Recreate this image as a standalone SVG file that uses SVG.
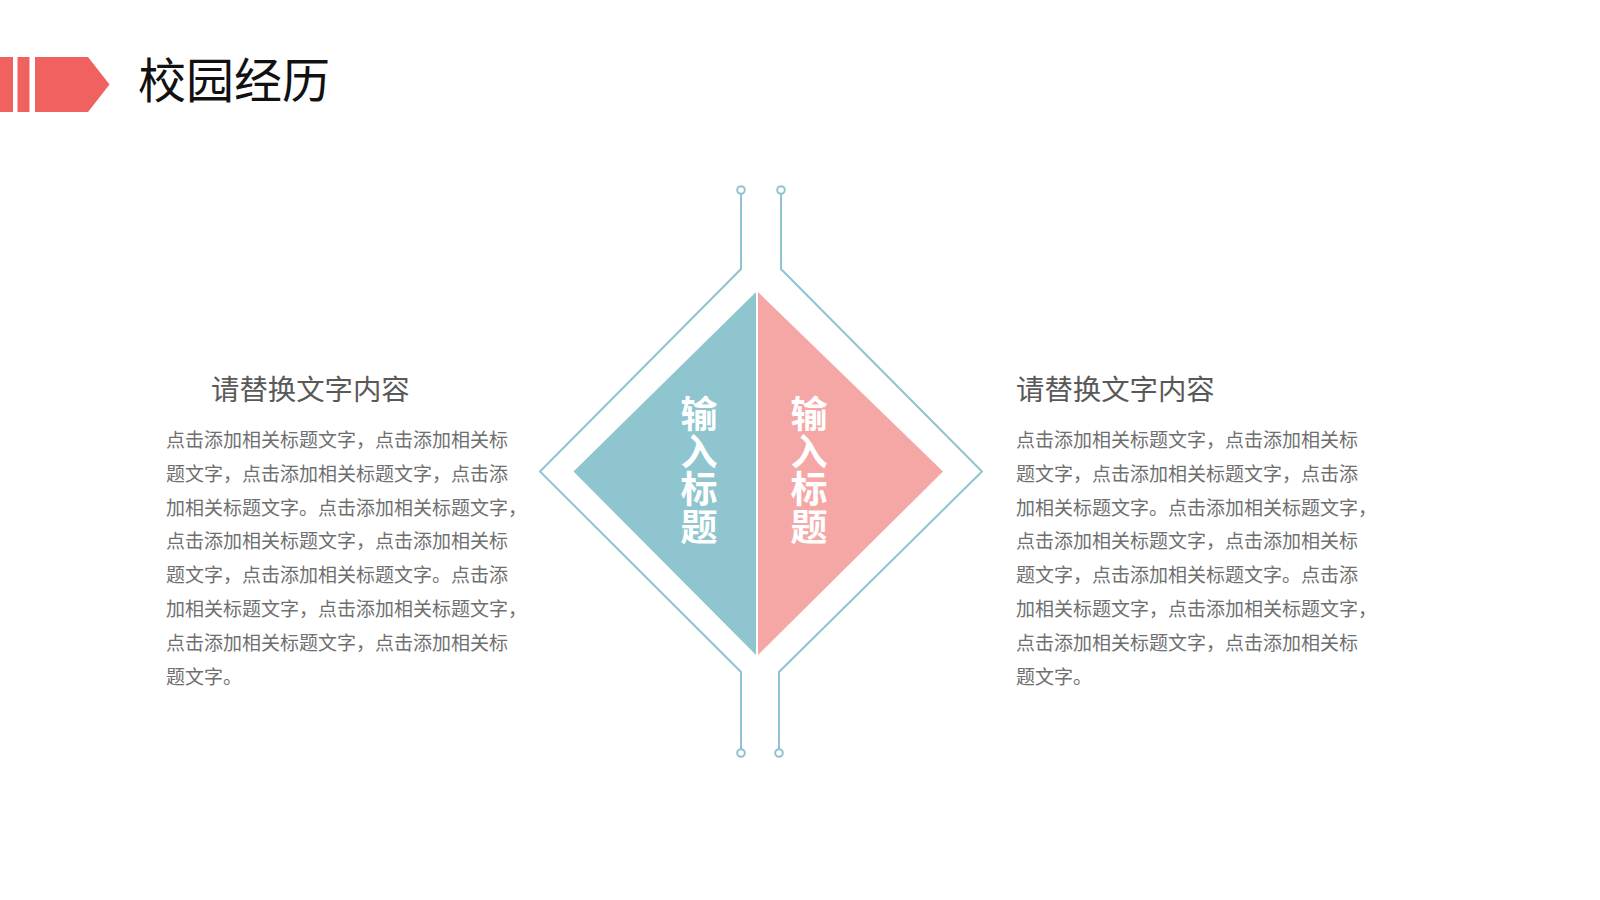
<svg xmlns="http://www.w3.org/2000/svg" width="1600" height="900" viewBox="0 0 1600 900">
<style>
.cjk{font-family:"Noto Sans CJK SC","Noto Sans",sans-serif}
.title{font-size:48px;fill:#111111}
.sub{font-size:28.4px;fill:#595959}
.body{font-size:19px;fill:#6f6f6f}
.tri-label{font-size:37px;font-weight:bold;fill:#ffffff;writing-mode:vertical-rl;letter-spacing:0.5px}
.wire{fill:none;stroke:#8fc4d0;stroke-width:2}
.dot{fill:#ffffff;stroke:#8fc4d0;stroke-width:2}
</style>
<rect width="1600" height="900" fill="#ffffff"/>
<g id="header">
  <rect x="0" y="57" width="13" height="55" fill="#f0625f"/>
  <rect x="17.5" y="57" width="12" height="55" fill="#f0625f"/>
  <polygon points="35,57 88,57 109.5,84.5 88,112 35,112" fill="#f0625f"/>
  <text class="cjk title" x="138" y="98">校园经历</text>
</g>
<g id="connectors">
  <polyline class="wire" points="741,193.8 741,269 540,471.5 741,672 741,749.2"/>
  <polyline class="wire" points="781,193.8 781,269 982,471.5 779,672 779,749.2"/>
  <circle class="dot" cx="741" cy="190" r="3.8"/>
  <circle class="dot" cx="781" cy="190" r="3.8"/>
  <circle class="dot" cx="741" cy="753" r="3.8"/>
  <circle class="dot" cx="779" cy="753" r="3.8"/>
</g>
<g id="left-triangle">
  <polygon points="756,292 573.5,471.5 756,655" fill="#8ec5cf"/>
  <text class="cjk tri-label" x="699" y="395.5">输入标题</text>
</g>
<g id="right-triangle">
  <polygon points="758,292 943,471.5 758,655" fill="#f5a7a5"/>
  <text class="cjk tri-label" x="809" y="395.5">输入标题</text>
</g>
<g id="left-text">
  <text class="cjk sub" x="211" y="400">请替换文字内容</text>
  <text class="cjk body" x="166" y="447">
    <tspan x="166" y="447">点击添加相关标题文字，点击添加相关标</tspan>
    <tspan x="166" y="480.8">题文字，点击添加相关标题文字，点击添</tspan>
    <tspan x="166" y="514.6">加相关标题文字。点击添加相关标题文字，</tspan>
    <tspan x="166" y="548.4">点击添加相关标题文字，点击添加相关标</tspan>
    <tspan x="166" y="582.2">题文字，点击添加相关标题文字。点击添</tspan>
    <tspan x="166" y="616">加相关标题文字，点击添加相关标题文字，</tspan>
    <tspan x="166" y="649.8">点击添加相关标题文字，点击添加相关标</tspan>
    <tspan x="166" y="683.6">题文字。</tspan>
  </text>
</g>
<g id="right-text">
  <text class="cjk sub" x="1016" y="400">请替换文字内容</text>
  <text class="cjk body" x="1016" y="447">
    <tspan x="1016" y="447">点击添加相关标题文字，点击添加相关标</tspan>
    <tspan x="1016" y="480.8">题文字，点击添加相关标题文字，点击添</tspan>
    <tspan x="1016" y="514.6">加相关标题文字。点击添加相关标题文字，</tspan>
    <tspan x="1016" y="548.4">点击添加相关标题文字，点击添加相关标</tspan>
    <tspan x="1016" y="582.2">题文字，点击添加相关标题文字。点击添</tspan>
    <tspan x="1016" y="616">加相关标题文字，点击添加相关标题文字，</tspan>
    <tspan x="1016" y="649.8">点击添加相关标题文字，点击添加相关标</tspan>
    <tspan x="1016" y="683.6">题文字。</tspan>
  </text>
</g>
</svg>
